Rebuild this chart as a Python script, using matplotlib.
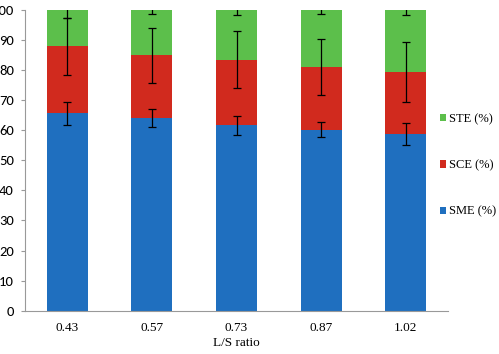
import matplotlib
matplotlib.use("Agg")
from matplotlib import pyplot as plt
import numpy as np

# data
ratios = ["0.43", "0.57", "0.73", "0.87", "1.02"]
sme = [65.6, 64.1, 61.6, 60.2, 58.7]
sce = [22.4, 20.8, 21.9, 20.8, 20.6]
ste = [12.0, 15.1, 16.5, 19.0, 20.7]
sme_err = [3.8, 3.1, 3.2, 2.5, 3.6]
sce_err = [9.5, 9.2, 9.4, 9.2, 10.0]
ste_err = [2.5, 1.2, 1.5, 1.2, 1.5]

blue = "#1f6fbf"
red = "#d12a1e"
green = "#5cbf4b"

plt.rcParams["font.serif"] = ["Liberation Serif", "DejaVu Serif"]

fig = plt.figure(figsize=(4.99, 3.54), dpi=100)
ax = fig.add_axes([25 / 499, 43.3 / 354, 423 / 499, 300.7 / 354])

x = np.arange(len(ratios))
w = 0.485
sme_top = np.array(sme)
sce_top = sme_top + np.array(sce)
ste_top = sce_top + np.array(ste)

b1 = ax.bar(x, sme, w, color=blue, label="SME (%)")
b2 = ax.bar(x, sce, w, bottom=sme_top, color=red, label="SCE (%)")
b3 = ax.bar(x, ste, w, bottom=sce_top, color=green, label="STE (%)")

ekw = dict(fmt="none", ecolor="black", elinewidth=0.9, capsize=3, capthick=0.9)
ax.errorbar(x, sme_top, yerr=sme_err, **ekw)
ax.errorbar(x, sce_top, yerr=sce_err, **ekw)
ax.errorbar(x, ste_top, yerr=ste_err, **ekw)

ax.set_xlim(-0.5, len(ratios) - 0.5)
ax.set_ylim(0, 100)
ax.set_yticks(range(0, 101, 10))
ax.set_yticklabels([str(v) for v in range(0, 101, 10)], family="Carlito", fontsize=10.5)
ax.set_xticks(x)
ax.set_xticklabels(ratios, family="serif", fontsize=9.5)
ax.tick_params(axis="x", length=0, pad=8)
ax.tick_params(axis="y", length=3, color="#999999", pad=5)
ax.set_xlabel("L/S ratio", family="serif", fontsize=9.5, labelpad=2)

for s in ["top", "right"]:
    ax.spines[s].set_visible(False)
ax.spines["left"].set_color("#999999")
ax.spines["bottom"].set_color("#999999")

leg = fig.legend([b3, b2, b1], ["STE (%)", "SCE (%)", "SME (%)"],
                 loc="upper left", bbox_to_anchor=(440 / 499, 1 - 113 / 354),
                 frameon=False, prop={"family": "serif", "size": 9},
                 handlelength=0.5, handleheight=0.5, handletextpad=0.25,
                 labelspacing=2.75, borderaxespad=0, borderpad=0)

fig.savefig("out.png", dpi=100)
